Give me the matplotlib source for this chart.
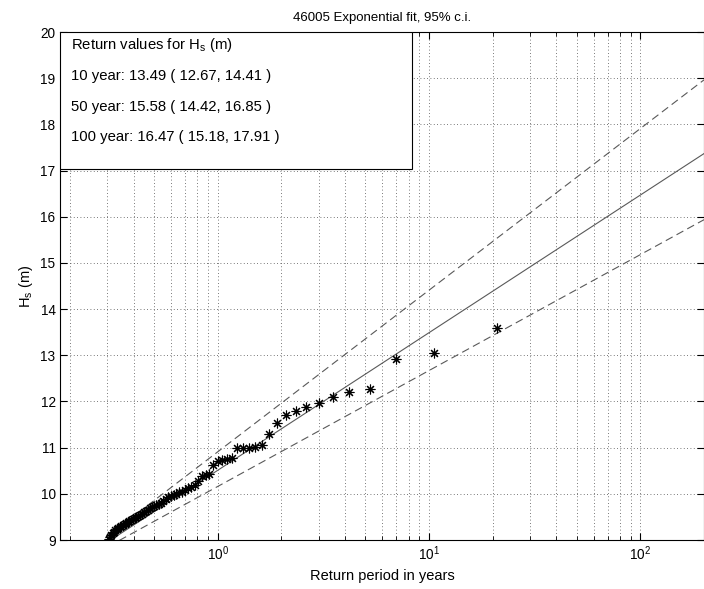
import matplotlib
matplotlib.use('Agg')
import matplotlib.pyplot as plt
from matplotlib.patches import Rectangle
from matplotlib.ticker import LogLocator, NullFormatter
import numpy as np

plt.rcParams['font.family'] = ['Liberation Sans', 'DejaVu Sans']
plt.rcParams['font.size'] = 10.5

# return periods (years) of the ranked observations
ret_period = [21.0, 10.5, 7.0, 5.25, 4.2, 3.5, 3.0, 2.625, 2.333, 2.1,
              1.909, 1.75, 1.615, 1.5, 1.4, 1.3125, 1.235, 1.167, 1.105, 1.05,
              1.0, 0.9545, 0.913, 0.875, 0.84, 0.8077, 0.7778, 0.75, 0.7241, 0.7,
              0.6774, 0.6563, 0.6364, 0.6176, 0.6, 0.5833, 0.5676, 0.5526, 0.5385, 0.525,
              0.5122, 0.5, 0.4884, 0.4773, 0.4667, 0.4565, 0.4468, 0.4375, 0.4286, 0.42,
              0.4118, 0.4038, 0.3962, 0.3889, 0.3818, 0.375, 0.3684, 0.3621, 0.3559, 0.35,
              0.3443, 0.3387, 0.3333, 0.3281, 0.3231, 0.3182, 0.3134, 0.3088, 0.3043]
# observed Hs (m)
hs_obs = [13.58, 13.04, 12.92, 12.27, 12.21, 12.09, 11.97, 11.89, 11.80, 11.71,
          11.53, 11.30, 11.06, 11.01, 10.99, 10.99, 10.99, 10.77, 10.75, 10.73,
          10.71, 10.62, 10.43, 10.41, 10.39, 10.27, 10.19, 10.15, 10.12, 10.08,
          10.05, 10.03, 9.99, 9.97, 9.95, 9.93, 9.88, 9.84, 9.80, 9.78,
          9.76, 9.74, 9.71, 9.69, 9.65, 9.62, 9.60, 9.57, 9.54, 9.52,
          9.50, 9.48, 9.46, 9.44, 9.42, 9.40, 9.37, 9.35, 9.32, 9.30,
          9.28, 9.25, 9.23, 9.21, 9.18, 9.15, 9.11, 9.07, 9.02]

# return values: period, estimate, lower, upper
rv_years = [10, 50, 100]
rv_est = [13.49, 15.58, 16.47]
rv_lo = [12.67, 14.42, 15.18]
rv_hi = [14.41, 16.85, 17.91]

x_max = 200


def line_through(t, y10, y100):
    # straight line in semilog space through the 10 and 100 year values
    return y10 + (y100 - y10) * (np.log10(t) - 1)


t_line = np.array([min(ret_period), x_max])

fig = plt.figure(figsize=(7.04, 5.89), dpi=100)
ax = fig.add_axes([60.4 / 704, 49 / 589, 643.6 / 704, 508 / 589])
ax.set_xscale('log')

ax.plot(t_line, line_through(t_line, rv_est[0], rv_est[2]), color='0.35', lw=0.8)
for lo_hi in (rv_lo, rv_hi):
    ax.plot(t_line, line_through(t_line, lo_hi[0], lo_hi[2]), color='0.35', lw=0.8,
            linestyle=(0, (7, 4)))
ax.plot(ret_period, hs_obs, linestyle='none', marker=(8, 2, 0), markersize=7,
        markeredgewidth=0.8, color='k')

ax.set_xlim(0.18, x_max)
ax.set_ylim(9, 20)
ax.set_yticks(range(9, 21))
ax.xaxis.set_major_locator(LogLocator(base=10, numticks=10))
ax.xaxis.set_minor_locator(LogLocator(base=10, subs=np.arange(2, 10), numticks=20))
ax.xaxis.set_minor_formatter(NullFormatter())

ax.grid(True, which='major', linestyle=(0, (1, 3)), color='0.3', lw=0.6)
ax.grid(True, which='minor', axis='x', linestyle=(0, (1, 3)), color='0.3', lw=0.6)
ax.tick_params(which='both', direction='in', top=True, right=True, labelsize=9.8)
ax.tick_params(which='major', length=5)
ax.tick_params(which='minor', length=3)
for s in ax.spines.values():
    s.set_linewidth(0.8)

ax.set_title('46005 Exponential fit, 95% c.i.', fontsize=9.5, pad=8)
ax.set_xlabel('Return period in years', fontsize=10.5)
ax.set_ylabel(r'H$_\mathregular{s}$ (m)', fontsize=10.5)

# text box with return values
ax.add_patch(Rectangle((0, 0.7303), 0.547, 0.2697, transform=ax.transAxes,
                       facecolor='white', edgecolor='k', lw=0.8, zorder=5))
lines = [r'Return values for H$_\mathregular{s}$ (m)']
for yr, e, lo, hi in zip(rv_years, rv_est, rv_lo, rv_hi):
    lines.append(f'{yr} year: {e:.2f} ( {lo:.2f}, {hi:.2f} )')
for k, txt in enumerate(lines):
    ax.text(0.0165, 0.974 - k * 0.0605, txt, transform=ax.transAxes, fontsize=10.7,
            va='center', ha='left', zorder=6)

fig.savefig('out.png', dpi=100)
